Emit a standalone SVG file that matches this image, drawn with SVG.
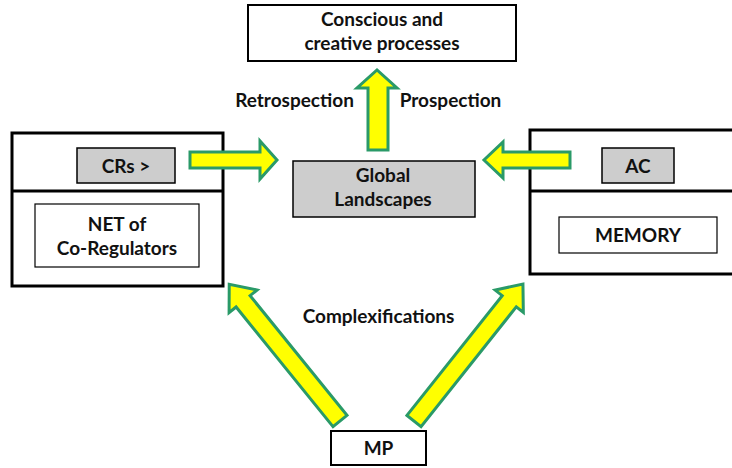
<svg xmlns="http://www.w3.org/2000/svg" width="732" height="468" viewBox="0 0 732 468">
<style>
text{font-family:Lato,"Open Sans","Liberation Sans",sans-serif;font-weight:700;font-size:19px;fill:#111;text-anchor:middle}
.big{fill:#fff;stroke:#000;stroke-width:3}
.box{fill:#fff;stroke:#000;stroke-width:2}
.thin{fill:#fff;stroke:#000;stroke-width:1.2}
.gray{fill:#cdcdcd;stroke:#000;stroke-width:1.5}
.arr{fill:#ffff00;stroke:#2a9a68;stroke-width:3;stroke-linejoin:miter}
</style>
<rect width="732" height="468" fill="#fff"/>
<g id="conscious">
<rect class="box" x="248" y="5" width="268" height="56"/>
<text x="382" y="26">Conscious and</text>
<text x="382" y="50">creative processes</text>
</g>
<g id="left-block">
<rect class="big" x="12" y="133" width="211" height="153"/>
<line x1="12" y1="191" x2="223" y2="191" stroke="#000" stroke-width="3"/>
</g>
<g id="crs">
<rect class="gray" x="77" y="148" width="98" height="35"/>
<text x="126" y="173">CRs &gt;</text>
</g>
<g id="net">
<rect class="thin" x="35" y="204" width="164" height="63"/>
<text x="117" y="231">NET of</text>
<text x="117" y="255">Co-Regulators</text>
</g>
<g id="right-block">
<rect class="big" x="530" y="130" width="210" height="144"/>
<line x1="530" y1="191" x2="740" y2="191" stroke="#000" stroke-width="3"/>
</g>
<g id="ac">
<rect class="gray" x="602" y="148" width="72" height="35"/>
<text x="638" y="173">AC</text>
</g>
<g id="memory">
<rect class="thin" x="559" y="217" width="158" height="36"/>
<text x="638" y="242">MEMORY</text>
</g>
<g id="global">
<rect class="gray" x="293" y="161" width="182" height="56"/>
<text x="383" y="182">Global</text>
<text x="383" y="206">Landscapes</text>
</g>
<g id="mp">
<rect class="box" x="331" y="431" width="95" height="34"/>
<text x="378.5" y="455">MP</text>
</g>
<g id="connectors">
<polygon class="arr" points="190,152 260,152 260,141 277,160 260,179 260,168 190,168"/>
<polygon class="arr" points="570,152 503,152 503,142 484,160 503,178 503,168 570,168"/>
<polygon class="arr" points="368,150 368,88 357,88 377,70 397,88 388,88 388,150"/>
<polygon class="arr" transform="translate(340,421) rotate(-129)" points="0,-9 154,-9 154,-18 176,0 154,18 154,9 0,9"/>
<polygon class="arr" transform="translate(414,421) rotate(-51.5)" points="0,-9 153,-9 153,-18 175,0 153,18 153,9 0,9"/>
</g>
<g id="labels">
<text x="294.5" y="107">Retrospection</text>
<text x="450.5" y="107">Prospection</text>
<text x="378.5" y="323">Complexifications</text>
</g>
</svg>
